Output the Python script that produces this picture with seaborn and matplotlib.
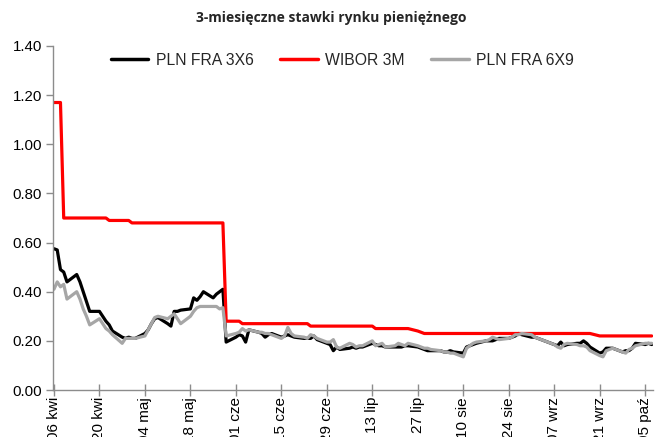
import matplotlib
matplotlib.use("Agg")
import matplotlib.pyplot as plt
import matplotlib.dates as mdates
from matplotlib.ticker import FixedLocator, FormatStrFormatter
import seaborn as sns
import pandas as pd
import numpy as np

# ---- data ----
dates = pd.bdate_range("2020-04-06", "2020-10-07")

wibor_3m = (
    [1.17, 1.17, 1.17, 0.70, 0.70, 0.70, 0.70, 0.70, 0.70, 0.70,
     0.70, 0.70, 0.70, 0.69, 0.69, 0.69, 0.69, 0.69, 0.68]
    + [0.68] * 20 + [0.28]
    + [0.28, 0.28] + [0.27] * 15 + [0.26] * 5
    + [0.26] * 9 + [0.25] * 9 + [0.24, 0.235, 0.23, 0.23, 0.23]
    + [0.23] * 21
    + [0.23] * 14 + [0.22] * 8
    + [0.22] * 5
)

fra_3x6 = (
    [0.575, 0.57, 0.49, 0.48, 0.44, 0.47, 0.44, 0.40, 0.36, 0.32,
     0.32, 0.30, 0.28, 0.265, 0.24, 0.215, 0.21, 0.215, 0.21]
    + [0.21, 0.23, 0.245, 0.27, 0.29, 0.295, 0.27, 0.26, 0.32, 0.32, 0.325,
       0.33, 0.375, 0.365, 0.38, 0.40, 0.375, 0.39, 0.40, 0.41, 0.195]
    + [0.215, 0.225, 0.22, 0.195, 0.245, 0.235, 0.23, 0.215, 0.225, 0.23,
       0.215, 0.22, 0.225, 0.22, 0.215, 0.21, 0.21, 0.21, 0.22, 0.205,
       0.19, 0.185]
    + [0.16, 0.175, 0.165, 0.17, 0.175, 0.17, 0.175, 0.175, 0.19, 0.185,
       0.18, 0.18, 0.175, 0.175, 0.175, 0.175, 0.18, 0.18, 0.175, 0.17,
       0.165, 0.16, 0.16]
    + [0.16, 0.155, 0.155, 0.16, 0.155, 0.15, 0.175, 0.18, 0.185, 0.19,
       0.20, 0.20, 0.20, 0.205, 0.21, 0.21, 0.215, 0.22, 0.23, 0.225,
       0.215]
    + [0.215, 0.21, 0.205, 0.20, 0.185, 0.18, 0.195, 0.18, 0.185, 0.19,
       0.19, 0.20, 0.19, 0.175, 0.15, 0.155, 0.17, 0.17, 0.17, 0.155,
       0.16, 0.16]
    + [0.17, 0.19, 0.185, 0.19, 0.185]
)

fra_6x9 = (
    [0.41, 0.44, 0.42, 0.43, 0.37, 0.40, 0.37, 0.33, 0.30, 0.265,
     0.29, 0.27, 0.25, 0.24, 0.225, 0.19, 0.21, 0.21, 0.21]
    + [0.21, 0.22, 0.245, 0.27, 0.295, 0.30, 0.29, 0.30, 0.31, 0.29, 0.27,
       0.30, 0.32, 0.335, 0.34, 0.34, 0.34, 0.34, 0.33, 0.335, 0.22]
    + [0.23, 0.235, 0.25, 0.24, 0.245, 0.235, 0.235, 0.23, 0.23, 0.225,
       0.21, 0.22, 0.255, 0.23, 0.22, 0.215, 0.21, 0.225, 0.22, 0.21,
       0.195, 0.195]
    + [0.205, 0.175, 0.17, 0.19, 0.185, 0.175, 0.18, 0.18, 0.20, 0.18,
       0.185, 0.19, 0.175, 0.18, 0.19, 0.185, 0.18, 0.19, 0.18, 0.175,
       0.17, 0.17, 0.165]
    + [0.16, 0.155, 0.155, 0.15, 0.15, 0.135, 0.17, 0.18, 0.19, 0.195,
       0.20, 0.205, 0.215, 0.21, 0.205, 0.21, 0.215, 0.225, 0.225, 0.23,
       0.225]
    + [0.215, 0.21, 0.205, 0.20, 0.185, 0.175, 0.17, 0.185, 0.19, 0.185,
       0.18, 0.18, 0.175, 0.16, 0.14, 0.135, 0.16, 0.165, 0.17, 0.155,
       0.15, 0.165]
    + [0.17, 0.18, 0.19, 0.19, 0.19]
)

series_names = ["PLN FRA 3X6", "WIBOR 3M", "PLN FRA 6X9"]
series_colors = ["#000000", "#FF0000", "#A6A6A6"]

tick_dates = ["2020-04-06", "2020-04-20", "2020-05-04", "2020-05-18",
              "2020-06-01", "2020-06-15", "2020-06-29", "2020-07-13",
              "2020-07-27", "2020-08-10", "2020-08-24", "2020-09-07",
              "2020-09-21", "2020-10-05"]
tick_labels = ["06 kwi", "20 kwi", "04 maj", "18 maj", "01 cze", "15 cze",
               "29 cze", "13 lip", "27 lip", "10 sie", "24 sie", "07 wrz",
               "21 wrz", "05 paź"]

title = "3-miesięczne stawki rynku pieniężnego"

# ---- build frame ----
frames = []
for name, vals in zip(series_names, [fra_3x6, wibor_3m, fra_6x9]):
    frames.append(pd.DataFrame({"date": dates, "value": vals, "series": name}))
df = pd.concat(frames, ignore_index=True)

# ---- plot ----
sns.set_style("white")
plt.rcParams["font.family"] = ["Liberation Sans", "DejaVu Sans"]

fig = plt.figure(figsize=(6.58, 4.37), dpi=100)
ax = fig.add_axes([53 / 658, 1 - 390 / 437, 600 / 658, 344 / 437])

sns.lineplot(data=df, x="date", y="value", hue="series",
             hue_order=series_names, palette=series_colors,
             linewidth=2.3, ax=ax, legend=True)

ax.set_ylim(0, 1.4)
ax.yaxis.set_major_locator(FixedLocator(np.arange(0, 1.41, 0.2)))
ax.yaxis.set_major_formatter(FormatStrFormatter("%.2f"))

tpos = mdates.date2num(pd.to_datetime(tick_dates))
ax.set_xticks(tpos)
ax.set_xticklabels(tick_labels, rotation=90, ha="center", va="top")
x0 = mdates.date2num(pd.Timestamp("2020-04-06")) - 0.3
x1 = mdates.date2num(pd.Timestamp("2020-10-07")) + 0.4
ax.set_xlim(x0, x1)

ax.set_xlabel("")
ax.set_ylabel("")

for s in ["top", "right"]:
    ax.spines[s].set_visible(False)
for s in ["left", "bottom"]:
    ax.spines[s].set_color("#8C8C8C")
    ax.spines[s].set_linewidth(1.0)

ax.tick_params(axis="y", direction="out", length=5, width=1, color="#8C8C8C",
               labelsize=10.8, labelcolor="#000000", pad=3, left=True)
ax.tick_params(axis="x", direction="inout", length=8, width=1, color="#8C8C8C",
               labelsize=11, labelcolor="#000000", pad=1, bottom=True)

handles, labels = ax.get_legend_handles_labels()
ax.legend(handles, labels, ncol=3, loc="center",
          bbox_to_anchor=(0.482, 0.958), frameon=False,
          fontsize=11.3, handlelength=2.4, handletextpad=0.45,
          columnspacing=1.7)
for h in ax.get_legend().legend_handles:
    h.set_linewidth(2.5)

fig.text(331 / 658, 1 - 18 / 437, title, ha="center", va="center",
         fontsize=10, fontweight="bold", family=["Open Sans", "DejaVu Sans"])

fig.savefig("out.png", dpi=100)
